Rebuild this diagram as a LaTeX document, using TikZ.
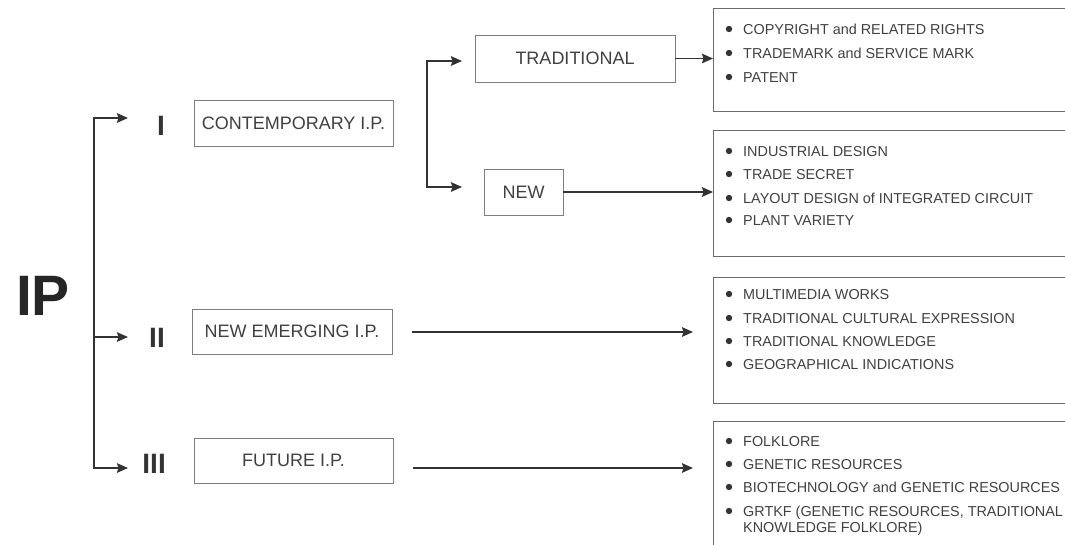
\documentclass[tikz,border=0pt]{standalone}
\usepackage{fontspec}
\setmainfont{Liberation Sans}
\usetikzlibrary{arrows.meta,positioning,calc}
\definecolor{inkgray}{RGB}{51,51,51}
\definecolor{boxgray}{RGB}{125,125,125}
\definecolor{txtgray}{RGB}{64,64,64}

\begin{document}
\begin{tikzpicture}[x=1pt, y=1pt, >={Stealth[length=11pt,width=9.5pt,inset=1.5pt]},
  cat/.style={rectangle, draw=boxgray, line width=0.9pt, text=txtgray, inner sep=0pt,
    minimum width=199pt, minimum height=46pt, font=\fontsize{18}{20}\selectfont},
  lbox/.style={rectangle, draw=boxgray!85!black, line width=1.1pt, anchor=north west,
    inner sep=0pt, minimum width=365pt},
  itm/.style={anchor=base west, inner sep=0pt, text=txtgray, font=\fontsize{14.4}{16}\selectfont},
  num/.style={anchor=base east, inner sep=0pt, text=inkgray, font=\bfseries\fontsize{28}{30}\selectfont},
  arr/.style={->, inkgray, line width=1.9pt}]
\useasboundingbox (0,0) rectangle (1065,-544);

\node[inner sep=0pt, text=black!85, font=\bfseries\fontsize{57}{60}\selectfont] (ip) at (43,-296) {IP};

% roman numerals and the spine
\node[num] (r1) at (165,-135) {I};
\node[num] (r2) at (165,-347) {II};
\node[num] (r3) at (166,-473) {III};
\coordinate (sp1) at (94,-118);
\coordinate (sp2) at (94,-337);
\coordinate (sp3) at (94,-468);
\coordinate (a1) at (128,-118);
\coordinate (a2) at (128,-337);
\coordinate (a3) at (128,-468);
\draw[arr, <->] (a1) -- (sp1) -- (sp3) -- (a3);
\draw[arr] (sp2) -- (a2);

% categories
\node[cat] (con) at (293.5,-123) {CONTEMPORARY I.P.};
\node[cat, minimum width=200pt, minimum height=45pt] (emg) at (292,-331.5) {NEW EMERGING I.P.};
\node[cat, minimum height=45pt] (fut) at (293.5,-460.5) {FUTURE I.P.};
\node[cat, minimum width=200pt, minimum height=47pt] (trd) at (575,-58.5) {TRADITIONAL};
\node[cat, minimum width=79pt] (new) at (523.5,-192) {NEW};
\coordinate (bt) at (427,-61);
\coordinate (bb) at (427,-187);
\coordinate (t1) at (462,-61);
\coordinate (t2) at (462,-187);
\draw[arr, <->] (t1) -- (bt) -- (bb) -- (t2);

% list boxes
\node[lbox, minimum height=103pt] (lst1) at (713,-8) {};
\node[lbox, minimum height=126pt] (lst2) at (713,-130) {};
\node[lbox, minimum height=126pt] (lst3) at (713,-277) {};
\node[lbox, minimum height=135pt] (lst4) at (713,-421) {};

\draw[arr] (trd.east) -- (trd.east -| lst1.west);
\draw[arr] (new.east) -- (new.east -| lst2.west);
\draw[arr, shorten <=20pt, shorten >=20pt] ([yshift=-0.5pt]emg.east) -- ([yshift=-0.5pt]emg.east -| lst3.west);
\draw[arr, shorten <=20pt, shorten >=20pt] ([yshift=-7.5pt]fut.east) -- ([yshift=-7.5pt]fut.east -| lst4.west);

% list items
\node[itm] (cpy) at (743,-34) {COPYRIGHT and RELATED RIGHTS};
\node[itm] (tmk) at (743,-58) {TRADEMARK and SERVICE MARK};
\node[itm] (pat) at (743,-82) {PATENT};
\node[itm] (ind) at (743,-156) {INDUSTRIAL DESIGN};
\node[itm] (sec) at (743,-179) {TRADE SECRET};
\node[itm] (lay) at (743,-203) {LAYOUT DESIGN of INTEGRATED CIRCUIT};
\node[itm] (pla) at (743,-225) {PLANT VARIETY};
\node[itm] (mul) at (743,-299) {MULTIMEDIA WORKS};
\node[itm] (tce) at (743,-323) {TRADITIONAL CULTURAL EXPRESSION};
\node[itm] (tkn) at (743,-346) {TRADITIONAL KNOWLEDGE};
\node[itm] (geo) at (743,-369) {GEOGRAPHICAL INDICATIONS};
\node[itm] (fol) at (743,-446) {FOLKLORE};
\node[itm] (gen) at (743,-469) {GENETIC RESOURCES};
\node[itm] (bio) at (743,-492) {BIOTECHNOLOGY and GENETIC RESOURCES};
\node[itm] (grt) at (743,-516) {GRTKF (GENETIC RESOURCES, TRADITIONAL};
\node[itm] (grt2) at (743,-532) {KNOWLEDGE FOLKLORE)};
\foreach \n in {cpy,tmk,pat,ind,sec,lay,pla,mul,tce,tkn,geo,fol,gen,bio,grt}
  \fill[inkgray] ([shift={(-14,5)}]\n.base west) circle (3.2);
\end{tikzpicture}
\end{document}
